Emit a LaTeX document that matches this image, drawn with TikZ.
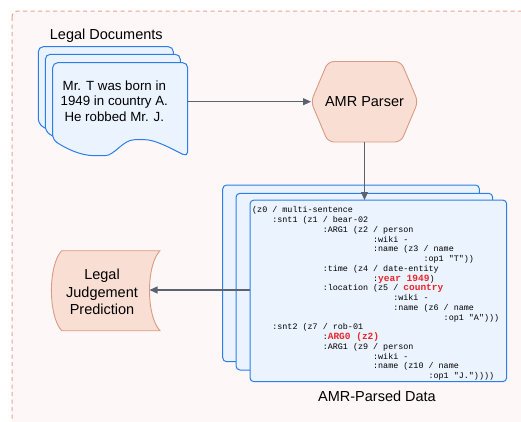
\documentclass[tikz,border=0pt]{standalone}
\usepackage{fontspec}
\setmainfont{Liberation Sans}
\setmonofont{Liberation Mono}
\usetikzlibrary{arrows.meta}

\definecolor{docblue}{HTML}{2B7DE9}
\definecolor{docfill}{HTML}{EBF4FE}
\definecolor{salmonfill}{HTML}{F9DED4}
\definecolor{salmonedge}{HTML}{DA9A82}
\definecolor{framedash}{HTML}{E8A48E}
\definecolor{framefill}{HTML}{FDF8F7}
\definecolor{arrowgray}{HTML}{5C6370}
\definecolor{amrred}{HTML}{E8262B}

\tikzset{
  frame/.style={draw=framedash, fill=framefill, line width=1pt, dash pattern=on 4pt off 3.5pt, rounded corners=6},
  docline/.style={draw=docblue, fill=docfill, line width=1pt},
  salmonline/.style={draw=salmonedge, fill=salmonfill, line width=0.9pt},
  flow/.style={-{Triangle[length=8pt,width=7pt]}, line width=1.1pt, draw=arrowgray, fill=arrowgray},
  bigtext/.style={font=\fontsize{14.5}{17.5}\selectfont, align=center},
}

\newcommand{\ind}[1]{\hspace*{#1\dimexpr 0.6em\relax}}
\newcommand{\hl}[1]{{\color{amrred}\fontsize{9.5}{9.75}\selectfont\bfseries #1}}
\newcommand{\amrfont}{\ttfamily\fontsize{8.4}{9.75}\selectfont\frenchspacing\lineskiplimit=-10pt\relax}

\begin{document}
\begin{tikzpicture}[x=1pt,y=-1pt]
\useasboundingbox (0,0) rectangle (521,421);
\clip (0,0) rectangle (521,421);
\fill[white] (0,0) rectangle (521,421);
\draw[frame] (12,11) rectangle (560,460);

% legal documents
\foreach \dx/\dy in {0/0,7/7.6,14.4/16}
  \draw[docline, rounded corners=5, shift={(38.3+\dx,46.7+\dy)}] (60,0) -- (135,0) -- (135,94)
    .. controls (115,84) and (102,77) .. (87,77)
    .. controls (70,77) and (62,93) .. (47,93)
    .. controls (27,93) and (12,85) .. (0,77) -- (0,0) -- cycle;
\node[bigtext, anchor=base] (doclabel) at (106.3,39.3) {Legal Documents};
\node[anchor=north, align=center, font=\fontsize{13.3}{15.8}\selectfont] (doctext) at (114.3,77) {Mr. T was born in\\1949 in country A.\\He robbed Mr. J.};

% parser
\coordinate (parserW) at (311,101.7);
\coordinate (parserS) at (364.5,142);
\draw[salmonline, rounded corners=6] (parserW) -- (328,61.5) -- (401,61.5) -- (418,101.7) -- (401,142) -- (328,142) -- cycle;
\node[bigtext, anchor=base] (parser) at (364.5,106) {AMR Parser};

% amr graphs
\foreach \dx/\dy/\h in {0/0/176.7,13.3/8.3/176.7,27.3/15/181.7}
  \draw[docline, rounded corners=4] (222.7+\dx,185+\dy) rectangle ++(256.7,\h);
\node[anchor=north west, inner sep=0, align=left, font=\amrfont] (amrtext) at (252,206.5) {%
(z0 / multi-sentence\\
\ind{4}:snt1 (z1 / bear-02\\
\ind{14}:ARG1 (z2 / person\\
\ind{24}:wiki -\\
\ind{24}:name (z3 / name\\
\ind{34}:op1 "T"))\\
\ind{14}:time (z4 / date-entity\\
\ind{24}:\hl{year 1949})\\
\ind{14}:location (z5 / \hl{country}\\
\ind{28}:wiki -\\
\ind{28}:name (z6 / name\\
\ind{38}:op1 "A")))\\
\ind{4}:snt2 (z7 / rob-01\\
\ind{14}:\hl{ARG0 (z2)}\\
\ind{14}:ARG1 (z9 / person\\
\ind{24}:wiki -\\
\ind{24}:name (z10 / name\\
\ind{35}:op1 "J."))))};
\node[bigtext, anchor=base] (amrlabel) at (377,401.7) {AMR-Parsed Data};

% prediction
\draw[salmonline] (61.7,250.7) -- (160,250.7) .. controls (146,265) and (146,316) .. (160,330.7)
  -- (61.7,330.7) .. controls (48,316) and (48,265) .. (61.7,250.7) -- cycle;
\node[bigtext, anchor=north] (ljp) at (102,265.5) {Legal\\Judgement\\Prediction};

\coordinate (docE) at (187.7,101.7);
\coordinate (amrN) at (364.5,200);
\coordinate (amrW) at (250,290);
\coordinate (ljpE) at (149.5,290);
\draw[flow] (docE) -- (parserW);
\draw[flow] (parserS) -- (amrN);
\draw[flow] (amrW) -- (ljpE);
\end{tikzpicture}
\end{document}
